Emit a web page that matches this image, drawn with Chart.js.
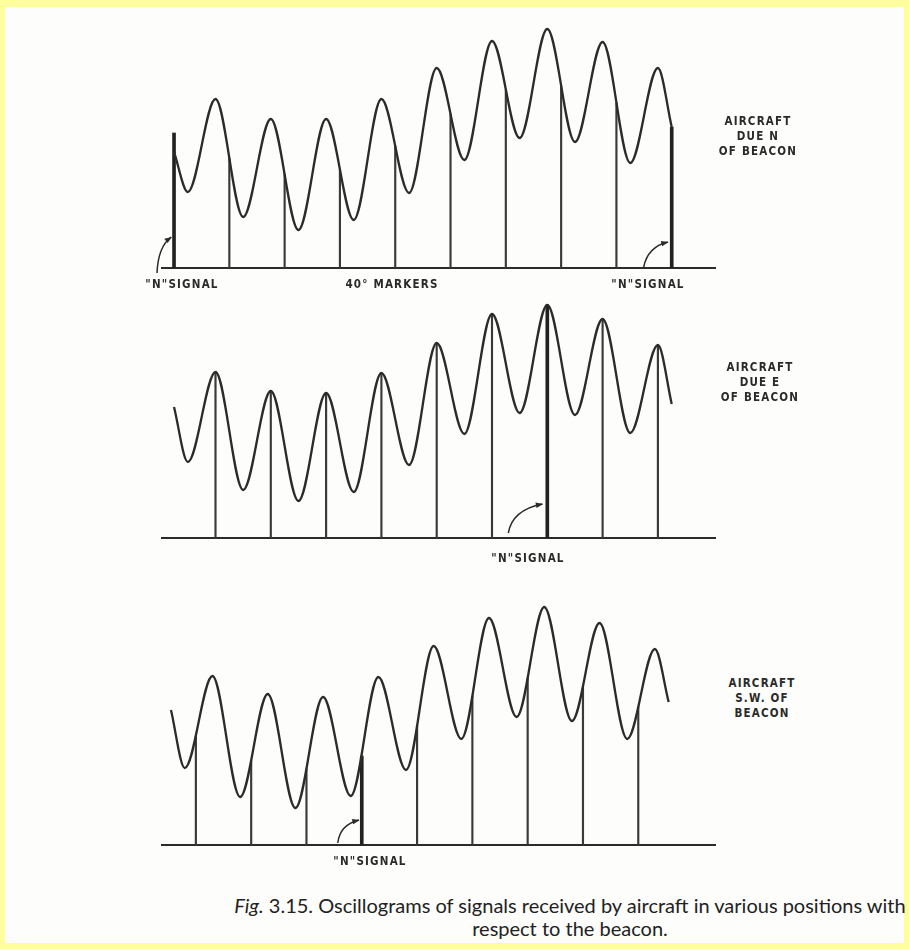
<!DOCTYPE html>
<html>
<head>
<meta charset="utf-8">
<script src="https://cdn.jsdelivr.net/npm/chart.js@4/dist/chart.umd.min.js"></script>
<style>
  html, body { margin: 0; padding: 0; }
  body { width: 909px; height: 949px; background: #fefe9c; position: relative; overflow: hidden; }
  #sheet { position: absolute; left: 5px; top: 7px; width: 899px; height: 936px; background: #fdfdfb; }
  canvas { position: absolute; }
  .lbl { position: absolute; font-family: "DejaVu Sans Condensed", "DejaVu Sans", sans-serif; font-weight: bold;
         font-size: 11.5px; letter-spacing: 1.2px; color: #2a2a2a; white-space: nowrap; line-height: 15px;
         transform: translate(-50%, -7px); text-align: center; }
  .cap { position: absolute; left: 570px; font-family: Lato, "Open Sans", sans-serif; font-size: 20px; color: #222;
         white-space: nowrap; transform: translate(-50%, -12px); }
</style>
</head>
<body>
<div id="sheet"></div>
<canvas id="dueN" width="573" height="278" style="left:152px; top:8px"></canvas>
<canvas id="dueE" width="573" height="278" style="left:152px; top:278px"></canvas>
<canvas id="dueSW" width="573" height="278" style="left:152px; top:585px"></canvas>

<div class="lbl" style="left:182px; top:284px">"N"SIGNAL</div>
<div class="lbl" style="left:392px; top:284px">40° MARKERS</div>
<div class="lbl" style="left:648px; top:284px">"N"SIGNAL</div>
<div class="lbl" style="left:758px; top:121px">AIRCRAFT<br>DUE N<br>OF BEACON</div>

<div class="lbl" style="left:528px; top:558px">"N"SIGNAL</div>
<div class="lbl" style="left:760px; top:367px">AIRCRAFT<br>DUE E<br>OF BEACON</div>

<div class="lbl" style="left:370px; top:861px">"N"SIGNAL</div>
<div class="lbl" style="left:762px; top:683px">AIRCRAFT<br>S.W. OF<br>BEACON</div>

<div class="cap" style="top:905px"><i>Fig.</i> 3.15. Oscillograms of signals received by aircraft in various positions with</div>
<div class="cap" style="top:928px">respect to the beacon.</div>

<script>
// sweep phase in degrees (one 40° marker interval per signal cycle)
const troughDeg = [10, 50, 90, 130, 170, 210, 250, 290, 330];
const peakDeg = [30, 70, 110, 150, 190, 230, 270, 310, 350];
const endDeg = [0, 360];

// aircraft due N of beacon
const dueNTroughs = [76, 51, 38, 48, 75, 108, 130, 126, 105];
const dueNPeaks = [169, 149, 149, 169, 200, 227, 239, 226, 200];
const dueNEnds = [116, 141];
const dueNMarkerDeg = [40, 80, 120, 160, 200, 240, 280, 320];
const dueNMarkerH = [110, 94, 98, 122, 154, 178, 182, 165];
const dueNSignalDeg = [0, 360];
const dueNSignalH = [135, 141];

// aircraft due E of beacon
const dueETroughs = [76, 48, 37, 46, 73, 104, 125, 123, 105];
const dueEPeaks = [166, 147, 145, 165, 195, 224, 233, 219, 193];
const dueEEnds = [131, 134];
const dueEMarkerDeg = [30, 70, 110, 150, 190, 230, 310, 350];
const dueEMarkerH = [166, 147, 145, 165, 195, 224, 219, 193];
const dueESignalDeg = [270];
const dueESignalH = [233];

// aircraft S.W. of beacon
const dueSWTroughs = [77, 48, 37, 49, 75, 106, 128, 124, 106];
const dueSWPeaks = [169, 151, 148, 168, 199, 227, 238, 222, 196];
const dueSWEnds = [135, 143];
const dueSWMarkerDeg = [18, 58, 98, 178, 218, 258, 298, 338];
const dueSWMarkerH = [109, 84, 76, 119, 149, 167, 158, 138];
const dueSWSignalDeg = [138];
const dueSWSignalH = [89];

const ink = '#2b2b2b';

function wavePoints(troughs, peaks, ends) {
  const pts = [{ x: endDeg[0], y: ends[0] }];
  troughDeg.forEach((d, i) => {
    pts.push({ x: d, y: troughs[i] });
    pts.push({ x: peakDeg[i], y: peaks[i] });
  });
  pts.push({ x: endDeg[1], y: ends[1] });
  return pts;
}

// curved arrow from the label up to the "N" signal line
const nArrow = {
  id: 'nArrow',
  afterDraw(chart, args, opts) {
    const ctx = chart.ctx;
    opts.items.forEach(a => {
      const tx = chart.scales.x.getPixelForValue(a.deg) + a.dx;
      const ty = chart.scales.y.getPixelForValue(a.h);
      const sx = tx + a.start[0], sy = ty + a.start[1];
      const cx = tx + a.ctrl[0], cy = ty + a.ctrl[1];
      ctx.save();
      ctx.strokeStyle = ink;
      ctx.fillStyle = ink;
      ctx.lineWidth = 1.5;
      ctx.beginPath();
      ctx.moveTo(sx, sy);
      ctx.quadraticCurveTo(cx, cy, tx, ty);
      ctx.stroke();
      const ang = Math.atan2(ty - cy, tx - cx);
      ctx.beginPath();
      ctx.moveTo(tx + 1, ty);
      ctx.lineTo(tx - 7 * Math.cos(ang - 0.4), ty - 7 * Math.sin(ang - 0.4));
      ctx.lineTo(tx - 7 * Math.cos(ang + 0.4), ty - 7 * Math.sin(ang + 0.4));
      ctx.closePath();
      ctx.fill();
      ctx.restore();
    });
  }
};

function makeOscillogram(id, wave, markerDeg, markerH, signalDeg, signalH, xMin, xMax, arrows) {
  new Chart(document.getElementById(id), {
    type: 'line',
    data: {
      datasets: [
        {
          data: wave,
          borderColor: ink,
          borderWidth: 2.3,
          pointRadius: 0,
          cubicInterpolationMode: 'monotone',
          fill: false
        },
        {
          type: 'bar',
          data: markerDeg.map((d, i) => ({ x: d, y: markerH[i] })),
          backgroundColor: '#3a3a3a',
          barThickness: 1.5,
          grouped: false
        },
        {
          type: 'bar',
          data: signalDeg.map((d, i) => ({ x: d, y: signalH[i] })),
          backgroundColor: '#222',
          barThickness: 3,
          grouped: false
        }
      ]
    },
    options: {
      responsive: false,
      animation: false,
      events: [],
      layout: { padding: { left: 10, right: 10, top: 10, bottom: 18 } },
      plugins: { legend: { display: false }, tooltip: { enabled: false }, nArrow: { items: arrows } },
      scales: {
        x: {
          type: 'linear', min: xMin, max: xMax, offset: false,
          grid: { display: false, drawTicks: false },
          ticks: { display: false },
          border: { display: true, color: ink, width: 2 }
        },
        y: { min: 0, max: 250, display: false }
      }
    },
    plugins: [nArrow]
  });
}

makeOscillogram('dueN', wavePoints(dueNTroughs, dueNPeaks, dueNEnds),
  dueNMarkerDeg, dueNMarkerH, dueNSignalDeg, dueNSignalH, -8.7, 391.3, [
    { deg: 0, dx: -3, h: 31, start: [-14, 36], ctrl: [-13, 10] },
    { deg: 360, dx: -4, h: 26, start: [-24, 25], ctrl: [-20, 5] }
  ]);

makeOscillogram('dueE', wavePoints(dueETroughs, dueEPeaks, dueEEnds),
  dueEMarkerDeg, dueEMarkerH, dueESignalDeg, dueESignalH, -8.7, 391.3, [
    { deg: 270, dx: -5, h: 34, start: [-34, 29], ctrl: [-30, 6] }
  ]);

makeOscillogram('dueSW', wavePoints(dueSWTroughs, dueSWPeaks, dueSWEnds),
  dueSWMarkerDeg, dueSWMarkerH, dueSWSignalDeg, dueSWSignalH, -6.5, 393.5, [
    { deg: 138, dx: -3, h: 25, start: [-21, 23], ctrl: [-19, 5] }
  ]);
</script>
</body>
</html>
